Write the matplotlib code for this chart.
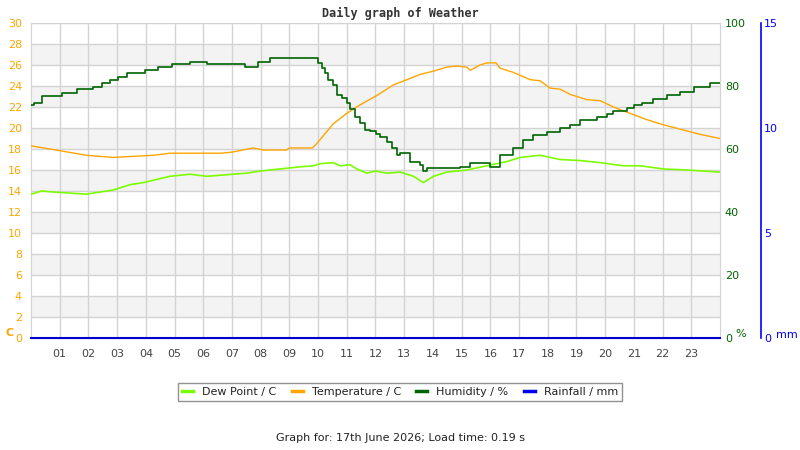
import matplotlib
matplotlib.use("Agg")
import matplotlib.pyplot as plt
from matplotlib.lines import Line2D


TEMP_COLOR = "#ffa500"
DEW_COLOR = "#7cfc00"
HUM_COLOR = "#006400"
RAIN_COLOR = "#0000cc"
GRID_COLOR = "#d3d3d3"

# Values (hour of day, value)
temp_hours = [0, 0.66, 1.94, 2.86, 4.26, 4.84, 6.6, 7.0, 7.74, 8.1, 8.9, 9.0, 9.8, 9.95,
              10.53, 11.0, 11.46, 12.05, 12.62, 13.09, 13.55, 14.0, 14.48, 14.83, 15.18,
              15.3, 15.64, 15.88, 16.2, 16.34, 16.8, 17.39, 17.73, 18.08, 18.43, 18.78,
              19.36, 19.83, 20.29, 20.76, 21.45, 22.03, 22.6, 23.3, 24.0]
temp_values = [18.3, 18.0, 17.4, 17.2, 17.4, 17.6, 17.6, 17.7, 18.1, 17.9, 17.9, 18.1, 18.1, 18.5,
               20.4, 21.4, 22.2, 23.1, 24.1, 24.6, 25.1, 25.4, 25.8, 25.9, 25.8,
               25.5, 26.0, 26.2, 26.2, 25.7, 25.3, 24.6, 24.5, 23.8, 23.7, 23.2,
               22.7, 22.6, 22.0, 21.5, 20.8, 20.3, 19.9, 19.4, 19.0]

dew_hours = [0, 0.37, 0.78, 1.94, 2.4, 2.87, 3.1, 3.45, 3.91, 4.38, 4.84, 5.54, 6.12, 7.05,
             7.52, 7.98, 8.68, 9.37, 9.84, 10.07, 10.53, 10.77, 11.11, 11.35, 11.7, 11.99,
             12.39, 12.86, 13.32, 13.67, 14.02, 14.48, 15.18, 15.88, 16.57, 17.04, 17.73,
             18.43, 19.13, 19.83, 20.64, 21.22, 22.03, 22.85, 24.0]
dew_values = [13.7, 14.0, 13.9, 13.7, 13.9, 14.1, 14.3, 14.6, 14.8, 15.1, 15.4, 15.6, 15.4, 15.6,
              15.7, 15.9, 16.1, 16.3, 16.4, 16.6, 16.7, 16.4, 16.5, 16.1, 15.7, 15.9,
              15.7, 15.8, 15.4, 14.8, 15.4, 15.8, 16.0, 16.4, 16.8, 17.2, 17.4,
              17.0, 16.9, 16.7, 16.4, 16.4, 16.1, 16.0, 15.8]

hum_hours = [0, 0.1, 0.37, 1.07, 1.59, 2.17, 2.46, 2.75, 3.04, 3.33, 3.97, 4.44, 4.9, 5.54,
             6.12, 7.46, 7.92, 8.33, 9.84, 10.01, 10.13, 10.24, 10.36, 10.53, 10.65, 10.83,
             11.0, 11.11, 11.29, 11.46, 11.64, 11.81, 12.03, 12.16, 12.39, 12.57, 12.74,
             12.86, 13.09, 13.2, 13.38, 13.55, 13.67, 13.79, 14.95, 15.3, 16.0,
             16.34, 16.8, 17.15, 17.5, 17.97, 18.43, 18.78, 19.13, 19.71, 20.06, 20.29,
             20.76, 20.99, 21.28, 21.68, 22.15, 22.61, 23.08, 23.66, 24.0]
hum_values = [74.0, 74.7, 76.9, 77.7, 79.0, 79.8, 80.8, 81.9, 83.0, 84.0, 85.1, 85.9, 86.9, 87.7,
              87.0, 85.9, 87.7, 88.8, 88.8, 87.2, 85.6, 84.0, 81.9, 80.3, 77.1, 76.1,
              74.5, 72.6, 70.3, 68.2, 66.0, 65.8, 64.8, 63.7, 62.3, 60.2, 58.1,
              58.8, 58.6, 56.0, 56.0, 54.9, 53.1, 53.9, 54.4, 55.7, 54.4,
              58.1, 60.2, 62.9, 64.4, 65.5, 66.6, 67.6, 69.2, 70.1, 71.1, 72.2,
              72.9, 74.0, 74.7, 75.8, 77.1, 78.2, 79.8, 80.8, 80.8]

rain_hours = [0, 24]
rain_values = [0, 0]

hour_ticks = list(range(1, 24))
hour_labels = [f"{h:02d}" for h in hour_ticks]
temp_ticks = list(range(0, 31, 2))
hum_ticks = list(range(0, 101, 20))
rain_ticks = [0, 5, 10, 15]

fig = plt.figure(figsize=(8, 4.5), dpi=100)
ax = fig.add_axes([31 / 800, 112 / 450, 689 / 800, 315 / 450])

# Alternating grey bands behind the grid
for lo in range(2, 30, 4):
    ax.axhspan(lo, lo + 2, color="#f3f3f3", zorder=0, lw=0)

ax.set_xlim(0, 24)
ax.set_ylim(0, 30)
ax.set_xticks(hour_ticks)
ax.set_xticklabels(hour_labels)
ax.set_yticks(temp_ticks)
ax.grid(True, color=GRID_COLOR, lw=1, zorder=1)
ax.set_axisbelow(True)
ax.tick_params(axis="x", length=0, pad=8, labelsize=8, labelcolor="#444444")
ax.tick_params(axis="y", length=0, pad=6.5, labelsize=8, labelcolor=TEMP_COLOR)
for side in ["left", "top", "right"]:
    ax.spines[side].set_color(GRID_COLOR)
ax.spines["bottom"].set_color(RAIN_COLOR)

ax.plot(temp_hours, temp_values, color=TEMP_COLOR, lw=1, zorder=3)
ax.plot(dew_hours, dew_values, color=DEW_COLOR, lw=1.2, zorder=3)

# Humidity on its own right axis
ax2 = ax.twinx()
ax2.set_ylim(0, 100)
ax2.set_yticks(hum_ticks)
ax2.tick_params(axis="y", length=0, pad=3.5, labelsize=8, labelcolor=HUM_COLOR)
for side in ax2.spines:
    ax2.spines[side].set_visible(False)
ax2.plot(hum_hours, hum_values, color=HUM_COLOR, lw=1.2, drawstyle="steps-post", zorder=4)

# Rainfall axis pushed further out
ax3 = ax.twinx()
ax3.set_ylim(0, 15)
ax3.set_yticks(rain_ticks)
ax3.spines["right"].set_position(("axes", 1 + 41 / 689))
for side in ["left", "top", "bottom"]:
    ax3.spines[side].set_visible(False)
ax3.spines["right"].set_color("#0000ff")
ax3.spines["right"].set_linewidth(1.2)
ax3.tick_params(axis="y", length=0, pad=2, labelsize=8, labelcolor="#0000ff")
ax3.plot(rain_hours, rain_values, color=RAIN_COLOR, lw=1.5, zorder=5, clip_on=False)

# Unit labels
fig.text(5 / 800, 1 - 333 / 450, "C", color=TEMP_COLOR, fontsize=8, fontweight="bold",
         ha="left", va="center")
fig.text(735 / 800, 1 - 334 / 450, "%", color=HUM_COLOR, fontsize=8, ha="left", va="center")
fig.text(776 / 800, 1 - 335 / 450, "mm", color="#0000ff", fontsize=8, ha="left", va="center")

fig.text(0.5, 1 - 13 / 450, "Daily graph of Weather", family="DejaVu Sans Mono",
         fontweight="bold", fontsize=8.5, color="#333333", ha="center", va="center")

handles = [
    Line2D([], [], color=DEW_COLOR, lw=2.5),
    Line2D([], [], color=TEMP_COLOR, lw=2.5),
    Line2D([], [], color=HUM_COLOR, lw=2.5),
    Line2D([], [], color="#0000ee", lw=2.5),
]
labels = ["Dew Point / C", "Temperature / C", "Humidity / %", "Rainfall / mm"]
leg = fig.legend(handles, labels, loc="upper center", bbox_to_anchor=(0.5, 1 - 383 / 450),
                 ncol=4, fontsize=8, frameon=True, fancybox=False, handlelength=1.0,
                 handletextpad=0.8, columnspacing=1.4, borderpad=0.35, borderaxespad=0)
leg.get_frame().set_edgecolor("#777777")
leg.get_frame().set_linewidth(1)
for t in leg.get_texts():
    t.set_color("#222222")

fig.text(0.5, 1 - 438 / 450, "Graph for: 17th June 2026; Load time: 0.19 s", fontsize=8,
         color="#222222", ha="center", va="center")

fig.savefig("out.png", dpi=100)
